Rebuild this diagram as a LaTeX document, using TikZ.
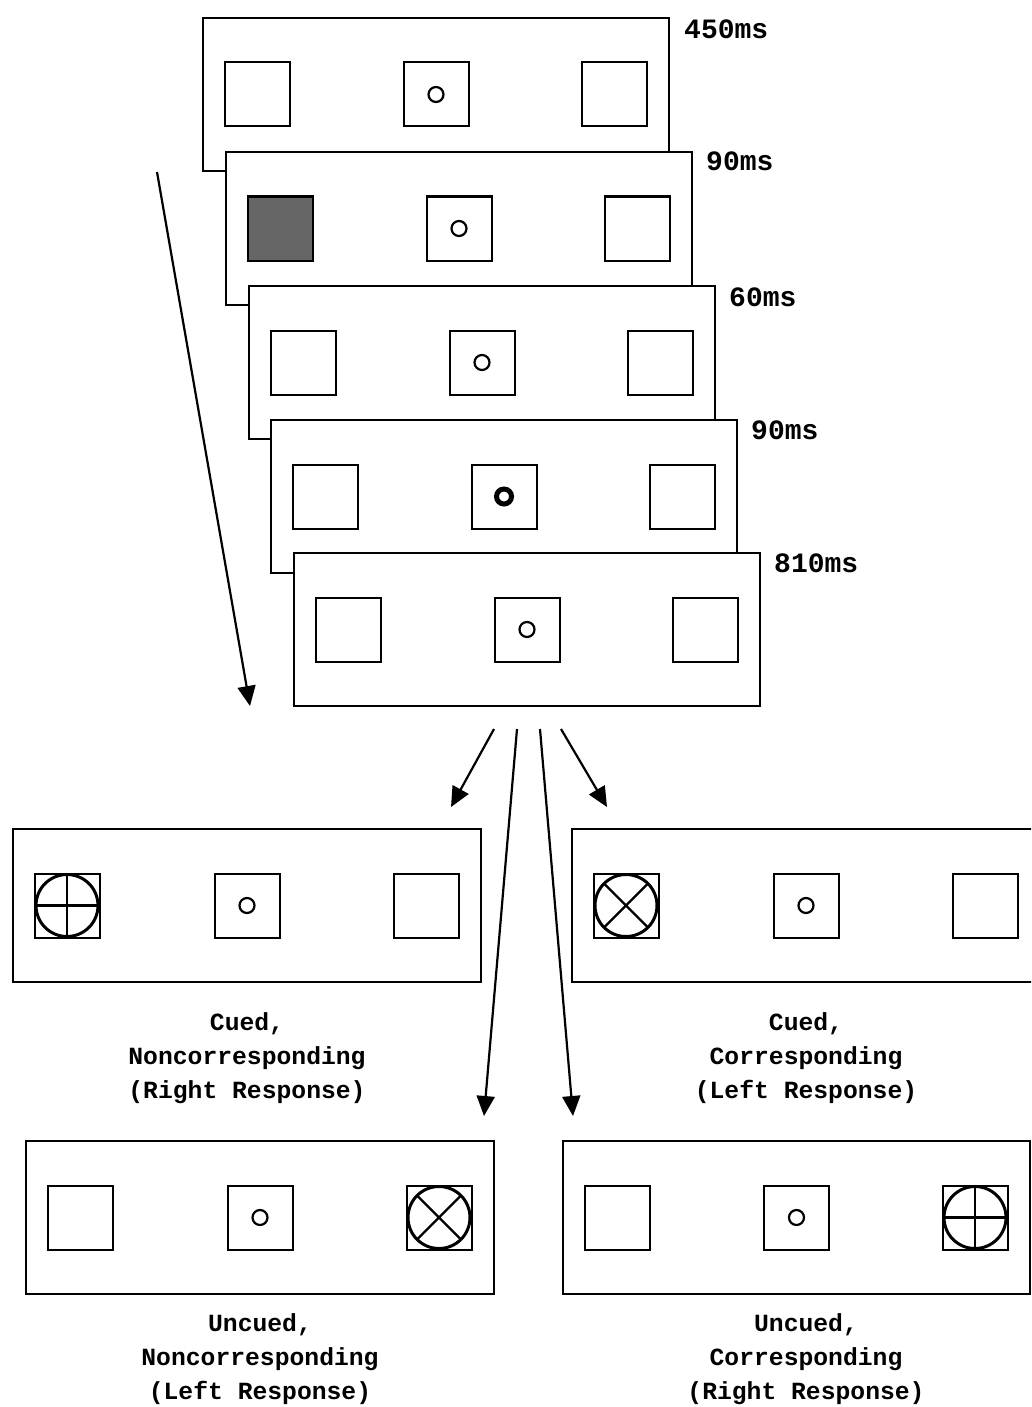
\documentclass[tikz,border=0pt]{standalone}
\usepackage{fontspec}
\setmonofont{Liberation Mono}
\usetikzlibrary{arrows.meta,calc}
\tikzset{
  frame/.style={draw, line width=2pt, fill=white, minimum width=466pt, minimum height=153pt, inner sep=0pt, anchor=north west},
  sq/.style={draw, line width=2pt, fill=white, minimum width=65pt, minimum height=64pt, inner sep=0pt},
  darksq/.style={sq, fill=black!60},
  fix/.style={draw, line width=2.2pt, circle, minimum size=15pt, inner sep=0pt},
  boldfix/.style={draw, line width=5pt, circle, minimum size=15pt, inner sep=0pt},
  timelbl/.style={font=\ttfamily\bfseries\fontsize{28}{28}\selectfont, anchor=west, inner sep=0pt},
  cond/.style={font=\ttfamily\bfseries\fontsize{24.7}{34}\selectfont, align=center, anchor=north, inner sep=0pt},
  arr/.style={line width=2.2pt, -{Triangle[length=20pt,width=18pt]}},
}
\newcommand\panelsq[4]{% frame name, left style, right style, fixation style
  \node[#2] (#1l) at ([xshift=55pt]#1.west) {};
  \node[sq] (#1c) at (#1.center) {};
  \node[#3] (#1r) at ([xshift=-56pt]#1.east) {};
  \node[#4] at (#1c) {};
}
\newcommand\pluscue[1]{%
  \draw[line width=3pt] (#1) circle (31pt);
  \draw[line width=2.2pt] (#1.north) -- (#1.south) (#1.west) -- (#1.east);
}
\newcommand\crosscue[1]{%
  \draw[line width=3pt] (#1) circle (31pt);
  \draw[line width=2.2pt] ($(#1)+(45:31pt)$) -- ($(#1)+(225:31pt)$)
    ($(#1)+(135:31pt)$) -- ($(#1)+(315:31pt)$);
}
\begin{document}
\begin{tikzpicture}[x=1pt,y=-1pt]
\clip (0,0) rectangle (1031,1407);
\fill[white] (0,0) rectangle (1031,1407);
% stacked frames
\node[frame] (f1) at (202,17) {};
\panelsq{f1}{sq}{sq}{fix}
\node[timelbl] (t1) at (684,29) {450ms};
\node[frame] (f2) at (225,151) {};
\panelsq{f2}{darksq}{sq}{fix}
\node[timelbl] (t2) at (706,161) {90ms};
\node[frame] (f3) at (248,285) {};
\panelsq{f3}{sq}{sq}{fix}
\node[timelbl] (t3) at (729,297) {60ms};
\node[frame] (f4) at (270,419) {};
\panelsq{f4}{sq}{sq}{boldfix}
\node[timelbl] (t4) at (751,430) {90ms};
\node[frame] (f5) at (293,552) {};
\panelsq{f5}{sq}{sq}{fix}
\node[timelbl] (t5) at (774,563) {810ms};
% target frames
\node[frame, minimum width=468pt] (b1) at (12,828) {};
\panelsq{b1}{sq}{sq}{fix}
\pluscue{b1l}
\node[frame, minimum width=468pt] (b2) at (571,828) {};
\panelsq{b2}{sq}{sq}{fix}
\crosscue{b2l}
\node[frame, minimum width=468pt] (b3) at (25,1140) {};
\panelsq{b3}{sq}{sq}{fix}
\crosscue{b3r}
\node[frame, minimum width=467pt] (b4) at (562,1140) {};
\panelsq{b4}{sq}{sq}{fix}
\pluscue{b4r}
% labels
\node[cond] (l1) at (247,1012) {Cued,\\Noncorresponding\\(Right Response)};
\node[cond] (l2) at (806,1012) {Cued,\\Corresponding\\(Left Response)};
\node[cond] (l3) at (260,1313) {Uncued,\\Noncorresponding\\(Left Response)};
\node[cond] (l4) at (806,1313) {Uncued,\\Corresponding\\(Right Response)};
% arrows
\coordinate (a0s) at (157,172);
\coordinate (a0e) at (250,706);
\draw[arr] (a0s) -- (a0e);
\coordinate (s1) at (494,729);
\coordinate (s2) at (517,729);
\coordinate (s3) at (540,729);
\coordinate (s4) at (561,729);
\coordinate (e1) at (451,807);
\coordinate (e2) at (484,1116);
\coordinate (e3) at (573,1116);
\coordinate (e4) at (607,807);
\draw[arr] (s1) -- (e1);
\draw[arr] (s2) -- (e2);
\draw[arr] (s3) -- (e3);
\draw[arr] (s4) -- (e4);
\end{tikzpicture}
\end{document}
